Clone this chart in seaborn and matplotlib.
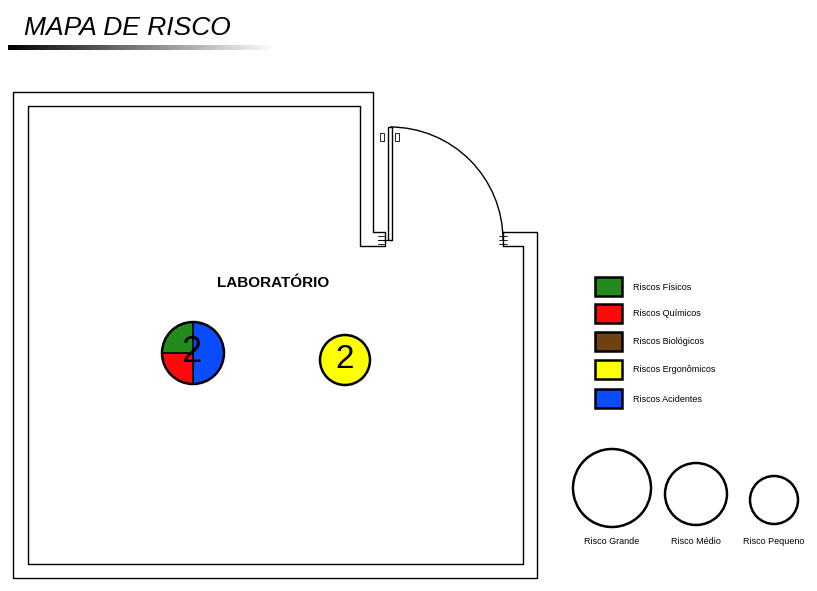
import numpy as np
import matplotlib
matplotlib.use("Agg")
import matplotlib.pyplot as plt
import seaborn as sns
from matplotlib.patches import Rectangle, Circle, Wedge, Arc

risk_categories = ["Riscos Físicos", "Riscos Químicos", "Riscos Biológicos", "Riscos Ergonômicos", "Riscos Acidentes"]
risk_colors = ["#228b1c", "#ff0a0a", "#6e4210", "#ffff00", "#0a4cff"]
size_labels = ["Risco Grande", "Risco Médio", "Risco Pequeno"]
room_name = "LABORATÓRIO"
point1_value = "2"
point1_parts = [("Riscos Físicos", 90, 180), ("Riscos Químicos", 180, 270), ("Riscos Acidentes", 270, 450)]
point2_value = "2"
point2_category = "Riscos Ergonômicos"

sns.set_theme(style="white")
plt.rcParams['font.family'] = ['Liberation Sans', 'DejaVu Sans']
plt.rcParams['text.color'] = 'black'
cmap = dict(zip(risk_categories, risk_colors))

fig = plt.figure(figsize=(8.17, 5.91), dpi=100)
ax = fig.add_axes([0, 0, 1, 1])
ax.set_xlim(0, 817); ax.set_ylim(591, 0); ax.axis("off")

ax.text(24, 28, "MAPA DE RISCO", fontsize=19, style="italic", va="center", ha="left", color="black")
grad = np.linspace(0, 1, 256)[None, :]
ax.imshow(grad, cmap="gray", extent=(8, 275, 50, 45), aspect="auto", zorder=1)

lw = 1.0
outer = [(373, 232), (373, 92), (13, 92), (13, 578), (537, 578), (537, 232), (503, 232)]
inner = [(385, 246), (360, 246), (360, 106), (28, 106), (28, 564), (523, 564), (523, 246), (503, 246)]
for poly in (outer, inner):
    xs, ys = zip(*poly)
    ax.plot(xs, ys, color="black", lw=lw)
ax.plot([373, 385], [232, 232], color="black", lw=lw)
ax.plot([385, 385], [232, 246], color="black", lw=lw)
ax.plot([503, 503], [232, 246], color="black", lw=lw)
ax.add_patch(Rectangle((388, 127), 4, 113, fill=False, lw=lw, ec="black"))
ax.add_patch(Arc((390, 240), 226, 226, theta1=270, theta2=360, lw=lw, color="black"))
ax.plot([378, 392], [240, 240], color="black", lw=0.8)
for yy in (236, 240, 244):
    ax.plot([378, 384], [yy, yy], color="black", lw=0.6)
    ax.plot([499, 507], [yy, yy], color="black", lw=0.6)
ax.add_patch(Rectangle((380, 133), 4, 8, fill=False, lw=0.6, ec="black"))
ax.add_patch(Rectangle((395, 133), 4, 8, fill=False, lw=0.6, ec="black"))

ax.text(273, 283, room_name, fontsize=11, fontweight="bold", ha="center", va="center", color="black")

for cat, t1, t2 in point1_parts:
    ax.add_patch(Wedge((193, 353), 31, -t2, -t1, fc=cmap[cat], ec="none"))
ax.add_patch(Circle((193, 353), 31, fill=False, ec="black", lw=1.8))
ax.plot([162, 193], [353, 353], color="black", lw=1.2)
ax.plot([193, 193], [322, 384], color="black", lw=1.2)
ax.text(191, 353, point1_value, fontsize=26, ha="center", va="center", color="black")

ax.add_patch(Circle((345, 360), 25, fc=cmap[point2_category], ec="black", lw=1.8))
ax.text(345, 360, point2_value, fontsize=24, ha="center", va="center", color="black")

leg_y = [287, 314, 342, 370, 399]
for cat, col, y in zip(risk_categories, risk_colors, leg_y):
    ax.add_patch(Rectangle((595, y - 10), 27, 19, fc=col, ec="black", lw=1.8))
    ax.text(633, y, cat, fontsize=6.5, va="center", ha="left", color="black")

size_x = [612, 696, 774]
size_y = [488, 494, 500]
size_r = [39, 31, 24]
for x, y, r in zip(size_x, size_y, size_r):
    ax.add_patch(Circle((x, y), r, fill=False, ec="black", lw=1.8))
for lab, x, y in zip(size_labels, size_x, [542, 541, 541]):
    ax.text(x, y, lab, fontsize=6.5, ha="center", va="center", color="black")

fig.savefig("out.png", dpi=100)
